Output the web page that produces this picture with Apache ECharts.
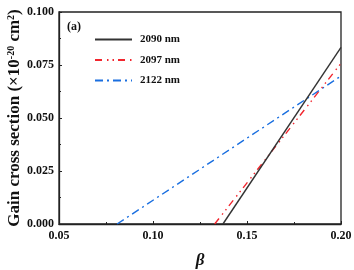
<!DOCTYPE html>
<html>
<head>
<meta charset="utf-8">
<script src="https://cdn.jsdelivr.net/npm/echarts@6/dist/echarts.min.js"></script>
<style>
  html, body { margin: 0; padding: 0; background: #fff; }
  #chart { width: 354px; height: 270px; }
</style>
</head>
<body>
<div id="chart"></div>
<script>
// each line: [beta, gain] endpoints
const names = ['2090 nm', '2097 nm', '2122 nm']
const line2090 = [[0.1372, 0], [0.20, 0.0833]]
const line2097 = [[0.1328, 0], [0.20, 0.0758]]
const line2122 = [[0.0809, 0], [0.20, 0.0698]]
const colors = ['#333333', '#f2262e', '#1a6fe0']
const dashes = ['solid', [7, 5, 1.5, 4, 1.5, 4], [8, 4, 2, 4]]

const serif = '"Liberation Serif", "Times New Roman", serif'
const chart = echarts.init(document.getElementById('chart'))

const mkSeries = (name, data, i) => ({
  name, type: 'line', data, symbol: 'none', z: 3 - i,
  lineStyle: { color: colors[i], width: 1.4, type: dashes[i] },
  itemStyle: { color: colors[i] }
})

chart.setOption({
  animation: false,
  backgroundColor: '#fff',
  grid: {
    left: 59, right: 13, top: 12, bottom: 46, outerBoundsMode: 'none',
    show: true, borderColor: '#222', borderWidth: 1.3
  },
  graphic: [{
    type: 'text', left: 67, top: 21,
    style: { text: '(a)', font: 'bold 12px ' + serif, fill: '#111' }
  }],
  legend: {
    orient: 'vertical', left: 89, top: 29, itemWidth: 37, itemHeight: 10, itemGap: 9.5,
    itemStyle: { opacity: 0 },
    textStyle: { fontFamily: serif, fontWeight: 'bold', fontSize: 11, color: '#111', padding: [0, 0, 0, 3] },
    data: names
  },
  xAxis: {
    type: 'value', min: 0.05, max: 0.20, interval: 0.05,
    name: 'β', nameLocation: 'middle', nameGap: 28, nameMoveOverlap: false,
    nameTextStyle: { fontFamily: serif, fontWeight: 'bold', fontStyle: 'italic', fontSize: 17, color: '#111' },
    axisLine: { lineStyle: { color: '#222', width: 1.3 } },
    axisTick: { inside: true, length: 3, lineStyle: { color: '#222' } },
    minorTick: { show: true, splitNumber: 2, length: 2, lineStyle: { color: '#222' } },
    splitLine: { show: false },
    axisLabel: { margin: 6, fontFamily: serif, fontWeight: 'bold', fontSize: 12, color: '#111', formatter: v => v.toFixed(2) }
  },
  yAxis: {
    type: 'value', min: 0, max: 0.1, interval: 0.025,
    name: '{a|Gain cross section (×10}{s|-20}{a| cm}{s|2}{a|)}',
    nameLocation: 'middle', nameGap: 36, nameRotate: 90, nameMoveOverlap: false,
    nameTextStyle: {
      rich: {
        a: { fontFamily: serif, fontWeight: 'bold', fontSize: 17, color: '#111' },
        s: { fontFamily: serif, fontWeight: 'bold', fontSize: 10, color: '#111', verticalAlign: 'top' }
      }
    },
    axisLine: { show: true, lineStyle: { color: '#222', width: 1.3 } },
    axisTick: { show: true, inside: true, length: 3, lineStyle: { color: '#222' } },
    minorTick: { show: true, splitNumber: 2, length: 2, lineStyle: { color: '#222' } },
    splitLine: { show: false },
    axisLabel: { margin: 5, fontFamily: serif, fontWeight: 'bold', fontSize: 12, color: '#111', formatter: v => v.toFixed(3) }
  },
  series: [
    mkSeries(names[0], line2090, 0),
    mkSeries(names[1], line2097, 1),
    mkSeries(names[2], line2122, 2)
  ]
})
</script>
</body>
</html>
